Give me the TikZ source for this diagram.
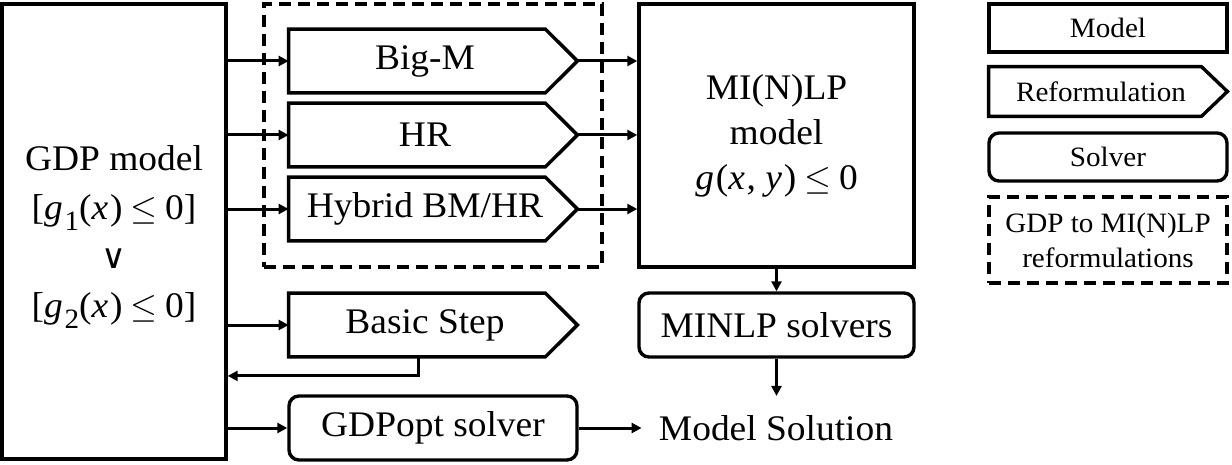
\documentclass[tikz,border=0pt]{standalone}
\usepackage{fontspec}
\setmainfont[FakeStretch=1.04]{Liberation Serif}
\newfontfamily\djv{DejaVu Sans}
\newcommand\mvar[1]{\textit{#1}\kern0.05em}
\newcommand\msub[1]{\raisebox{-0.3em}{\fontsize{14}{14}\selectfont #1}}
\newcommand\mleq{\hspace{0.22em}$\leq$\hspace{0.22em}}
\usetikzlibrary{arrows.meta,calc}
\begin{document}
\begin{tikzpicture}[x=0.5pt,y=-0.5pt,
  every node/.style={font=\fontsize{18}{22}\selectfont, inner sep=0pt},
  boxst/.style={draw, line width=1.7pt, align=center},
  rnd/.style={boxst, rounded corners=5pt},
  refst/.style={align=center},
  shp/.style={draw, line width=1.7pt, line join=miter},
  grp/.style={draw, line width=1.6pt, dash pattern=on 6pt off 3.5pt},
  arr/.style={line width=1.5pt, -{Triangle[length=5pt,width=5pt]}},
  leg/.style={font=\fontsize{14}{17.5}\selectfont}
]
\useasboundingbox (0,0) rectangle (1232,465);

% left GDP model
\node[boxst, minimum width=112pt, minimum height=227.5pt,
      font=\fontsize{18}{24.5}\selectfont] (gdp) at (114,231.5)
  {\rule{0pt}{18pt}GDP model\\
   {[}\mvar{g}\msub{1}(\mvar{x})\mleq 0{]}\\
   {\djv\fontsize{17}{17}\selectfont ∨}\\
   {[}\mvar{g}\msub{2}(\mvar{x})\mleq 0{]}};

% dashed group
\node[grp, minimum width=169pt, minimum height=131.5pt] (grp) at (433,135.5) {};

% reformulation shapes
\node[refst, minimum width=144pt, minimum height=31.5pt] (bigm) at (433,61) {\hspace*{-8pt}Big-M};
\node[refst, minimum width=144pt, minimum height=31.5pt] (hr) at (433,135) {\hspace*{-8pt}HR};
\node[refst, minimum width=144pt, minimum height=31.5pt] (hyb) at (433,209) {\hspace*{-8pt}Hybrid BM/HR};
\node[refst, minimum width=144pt, minimum height=31.5pt] (basic) at (433,325) {\hspace*{-8pt}Basic Step};
\foreach \n in {bigm,hr,hyb,basic}{
  \draw[shp] (\n.north west) -- ([xshift=-16pt]\n.north east) -- (\n.east)
    -- ([xshift=-16pt]\n.south east) -- (\n.south west) -- cycle;
}

% GDPopt solver
\node[rnd, minimum width=144pt, minimum height=32pt] (gdpopt) at (433,428) {GDPopt solver};

% MI(N)LP model
\node[boxst, minimum width=137.5pt, minimum height=131.5pt,
      font=\fontsize{18}{22.5}\selectfont] (minlp) at (776.5,135.5)
  {MI(N)LP\\model\\\mvar{g}(\mvar{x}, \mvar{y})\mleq 0};
\node[rnd, minimum width=137.5pt, minimum height=32pt] (solvers) at (776.5,325) {MINLP solvers};
\node[inner xsep=8.5pt, inner ysep=9.5pt] (sol) at (776,428) {Model Solution};

% connectors
\foreach \n in {bigm,hr,hyb,basic,gdpopt}{
  \draw[arr] (gdp.east |- \n.west) -- (\n.west);
}
\foreach \n in {bigm,hr,hyb}{
  \draw[arr] (\n.east) -- (\n.east -| minlp.west);
}
\draw[arr] (minlp.south) -- (solvers.north);
\draw[arr] (solvers.south) -- (solvers.south |- sol.north);
\draw[arr] (gdpopt.east) -- (sol.west);
\coordinate (bsA) at ([xshift=-7.5pt]basic.south);
\draw[arr] (bsA) -- ++(0,19) coordinate (bsB) -- (bsB -| gdp.east);

% legend
\node[boxst, leg, minimum width=119pt, minimum height=24pt] (lmodel) at (1108,28) {Model};
\node[refst, leg, minimum width=119pt, minimum height=24.5pt] (lref) at (1108,91.5) {\hspace*{-7pt}Reformulation};
\draw[shp] (lref.north west) -- ([xshift=-13pt]lref.north east) -- (lref.east)
  -- ([xshift=-13pt]lref.south east) -- (lref.south west) -- cycle;
\node[rnd, leg, minimum width=119pt, minimum height=24pt] (lsolv) at (1108,157) {Solver};
\node[grp, leg, align=center, minimum width=119pt, minimum height=43pt] (ldash) at (1108,240)
  {GDP to MI(N)LP\\reformulations};
\end{tikzpicture}
\end{document}
